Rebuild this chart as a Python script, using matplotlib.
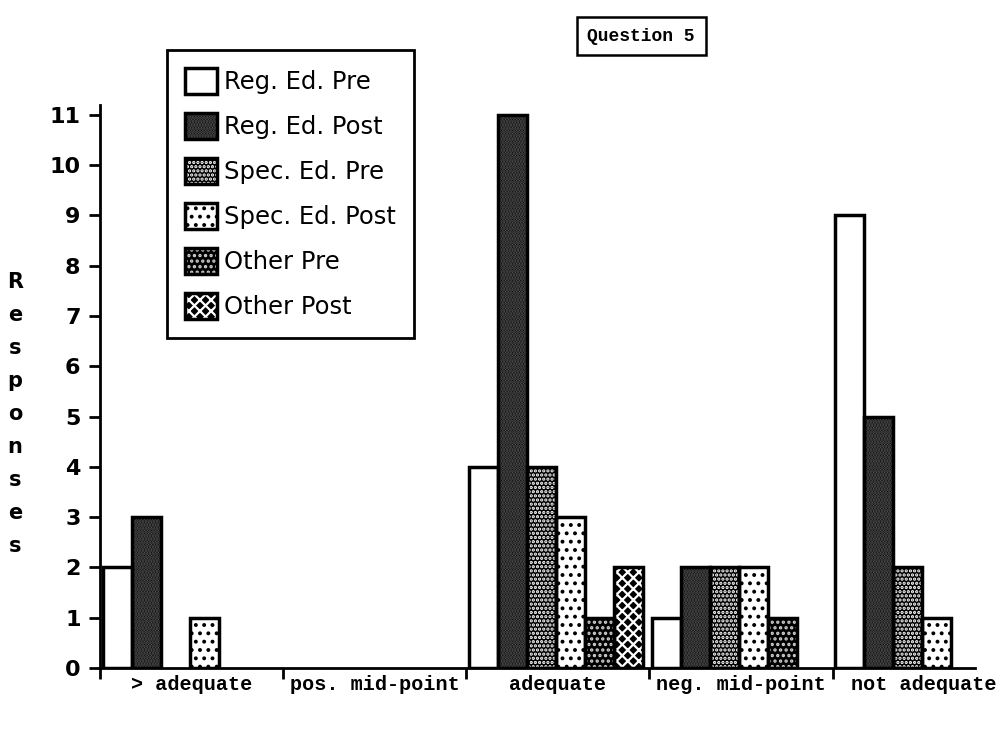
import matplotlib
matplotlib.use("Agg")
import matplotlib.pyplot as plt
from matplotlib.patches import Patch

categories = ["> adequate", "pos. mid-point", "adequate", "neg. mid-point", "not adequate"]
series_names = ["Reg. Ed. Pre", "Reg. Ed. Post", "Spec. Ed. Pre", "Spec. Ed. Post", "Other Pre", "Other Post"]
reg_pre = [2, 0, 4, 1, 9]
reg_post = [3, 0, 11, 2, 5]
spec_pre = [0, 0, 4, 2, 2]
spec_post = [1, 0, 3, 2, 1]
other_pre = [0, 0, 1, 1, 0]
other_post = [0, 0, 2, 0, 0]
series = [reg_pre, reg_post, spec_pre, spec_post, other_pre, other_post]

# (face, hatch, hatch colour) to mimic the old screen patterns
styles = [
    ("white", "", "white"),
    ("black", "......", "#5a5a5a"),
    ("black", "....", "white"),
    ("white", "..", "black"),
    ("black", "...", "#d0d0d0"),
    ("black", "xxx", "white"),
]

plt.rcParams["hatch.linewidth"] = 1.6

fig = plt.figure(figsize=(10.05, 7.38), dpi=100)
ax = fig.add_axes([0.0995, 0.095, 0.871, 0.763])

slot = 0.158
offset = 0.016
x0 = list(range(len(categories)))
handles = []
for k, (vals, (fc, hatch, hc)) in enumerate(zip(series, styles)):
    xs = [x + offset + k * slot for x in x0]
    for x, v in zip(xs, vals):
        if v <= 0:
            continue
        ax.bar(x, v, width=slot, align="edge", color=fc, hatch=hatch,
               edgecolor=hc, linewidth=0, zorder=2)
        ax.bar(x, v, width=slot, align="edge", fill=False,
               edgecolor="black", linewidth=2.5, zorder=3)
    h1 = Patch(facecolor=fc, hatch=hatch, edgecolor=hc, linewidth=0)
    h2 = Patch(fill=False, edgecolor="black", linewidth=2.5)
    handles.append((h1, h2))

ax.set_xlim(0, 4.78)
ax.set_ylim(0, 11.2)
ax.set_yticks(range(0, 12))
ax.set_yticklabels([str(i) for i in range(12)], fontsize=16, fontweight="bold")
ax.set_xticks(range(0, 5))
ax.set_xticklabels([])
ax.set_xticks([x + 0.5 for x in x0], minor=True)
ax.set_xticklabels(categories, minor=True, family="Liberation Mono",
                   fontweight="bold", fontsize=14.5)
ax.tick_params(axis="x", which="minor", length=0, pad=5)
ax.tick_params(axis="x", which="major", length=8, width=2)
ax.tick_params(axis="y", length=8, width=2, pad=6)
for s in ["top", "right"]:
    ax.spines[s].set_visible(False)
for s in ["left", "bottom"]:
    ax.spines[s].set_linewidth(2)

fig.text(0.015, 0.439, "\n".join("Responses"), ha="center", va="center",
         fontsize=15, fontweight="bold", linespacing=1.82)

fig.text(0.638, 0.951, "Question 5", ha="center", va="center",
         family="Liberation Mono", fontweight="bold", fontsize=13,
         bbox=dict(boxstyle="square,pad=0.6", facecolor="white",
                   edgecolor="black", linewidth=1.8))

leg = fig.legend(handles, series_names, loc="upper left",
                 bbox_to_anchor=(0.166, 0.932), fancybox=False,
                 framealpha=1, edgecolor="black", fontsize=17.5,
                 handlelength=1.3, handleheight=1.25, handletextpad=0.3,
                 labelspacing=0.78, borderpad=0.75, borderaxespad=0)
leg.get_frame().set_linewidth(2)

fig.savefig("out.png", dpi=100)
